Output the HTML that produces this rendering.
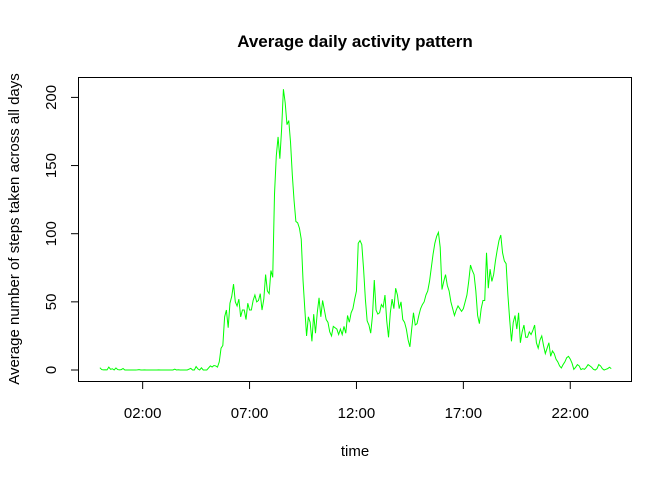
<!DOCTYPE html>
<html><head><meta charset="utf-8"><style>
body{margin:0;background:#fff;}
svg text{font-family:"Liberation Sans",Arial,sans-serif;fill:#000;}
</style></head><body>
<svg id="chart" width="672" height="480" viewBox="0 0 672 480" xmlns="http://www.w3.org/2000/svg">
<rect width="672" height="480" fill="#fff"/>
<text x="355" y="47" text-anchor="middle" font-size="17" font-weight="bold">Average daily activity pattern</text>
<text x="355" y="456" text-anchor="middle" font-size="15">time</text>
<text transform="translate(19,229) rotate(-90)" text-anchor="middle" font-size="15">Average number of steps taken across all days</text>
<rect x="78.5" y="77.5" width="553" height="304" fill="none" stroke="#000" stroke-width="1"/>
<g id="xaxis"></g><g id="yaxis"></g><g id="series"></g>
</svg>
<script>
const hourValues = [
[1.7,0.3,0.1,0.2,0.1,2.1,0.5,0.9,0,1.5,0.3,0.1],
[0.3,1.1,0,0,0,0,0,0,0,0.1,0.3,0],
[0,0.1,0,0,0,0,0,0,0,0.1,0,0],
[0,0,0,0,0,0,0.6,0,0.2,0,0,0],
[0,0,0.6,1.2,0,0,2.5,0.8,0,1.6,0,0],
[0,1.5,3,2.2,3.3,3,2.1,6,16,18,39,44],
[31,49,54,63,50,47,52,39,44,44,37,49],
[44,44,51,55,50,51,56,44,52,70,58,56],
[73,68,129,157,171,155,177,206,196,180,183,167],
[143,124,109,108,104,96,66,45,25,39,35,21],
[41,27,42,53,39,51,44,37,35,28,25,32],
[31,30,26,30,26,32,27,40,35,42,45,52],
[58,93,95,92,74,52,36,33,27,40,66,44],
[41,42,48,46,55,36,24,42,52,45,60,55],
[45,50,37,35,30,22,17,30,42,33,34,40],
[45,48,50,55,58,65,75,85,93,98,101,90],
[59,65,70,62,58,50,45,40,44,47,45,43],
[45,50,55,65,77,73,70,58,40,34,45,51],
[51,86,60,74,65,70,80,88,95,99,86,80],
[78,55,37,21,35,40,30,42,20,28,33,24],
[24,28,26,29,33,20,16,22,25,18,12,16],
[20,10,14,12,8,6,3,1.5,4,6,9,10],
[8,5,0.5,2,4,3,0.3,1,0.5,2,4,3],
[2,0.5,0,1,4,3,1,0,0.5,1,2,1]
];
const steps = hourValues.flat();
const xTickHours = [2,7,12,17,22];
const xTickLabels = ["02:00","07:00","12:00","17:00","22:00"];
const yTicks = [0,50,100,150,200];

const NS="http://www.w3.org/2000/svg";
const xScale = h => 99.9 + h*21.38;
const yScale = v => 370 - v*1.363;
function mk(tag, attrs, parent){const e=document.createElementNS(NS,tag);for(const k in attrs)e.setAttribute(k,attrs[k]);parent.appendChild(e);return e;}

const xg=document.getElementById('xaxis');
xTickHours.forEach((h,i)=>{
  const x=xScale(h);
  const t=mk('line',{x1:x,x2:x,y1:381.5,y2:389,stroke:'#000'},xg);
  
  
  const l=mk('text',{x:x,y:418,'text-anchor':'middle','font-size':'15'},xg);
  l.textContent=xTickLabels[i];
  
  
});
const yg=document.getElementById('yaxis');
yTicks.forEach(v=>{
  const y=yScale(v);
  const t=mk('line',{x1:71,x2:78.5,y1:y,y2:y,stroke:'#000'},yg);
  
  
  const l=mk('text',{transform:`translate(56,${y}) rotate(-90)`,'text-anchor':'middle','font-size':'15'},yg);
  l.textContent=v;
  
  
});
const pts=steps.map((v,i)=>xScale(i/12).toFixed(2)+','+yScale(v).toFixed(2)).join(' ');
const line=mk('polyline',{points:pts,fill:'none',stroke:'#00ff00','stroke-width':'1'},document.getElementById('series'));


</script>
</body></html>
